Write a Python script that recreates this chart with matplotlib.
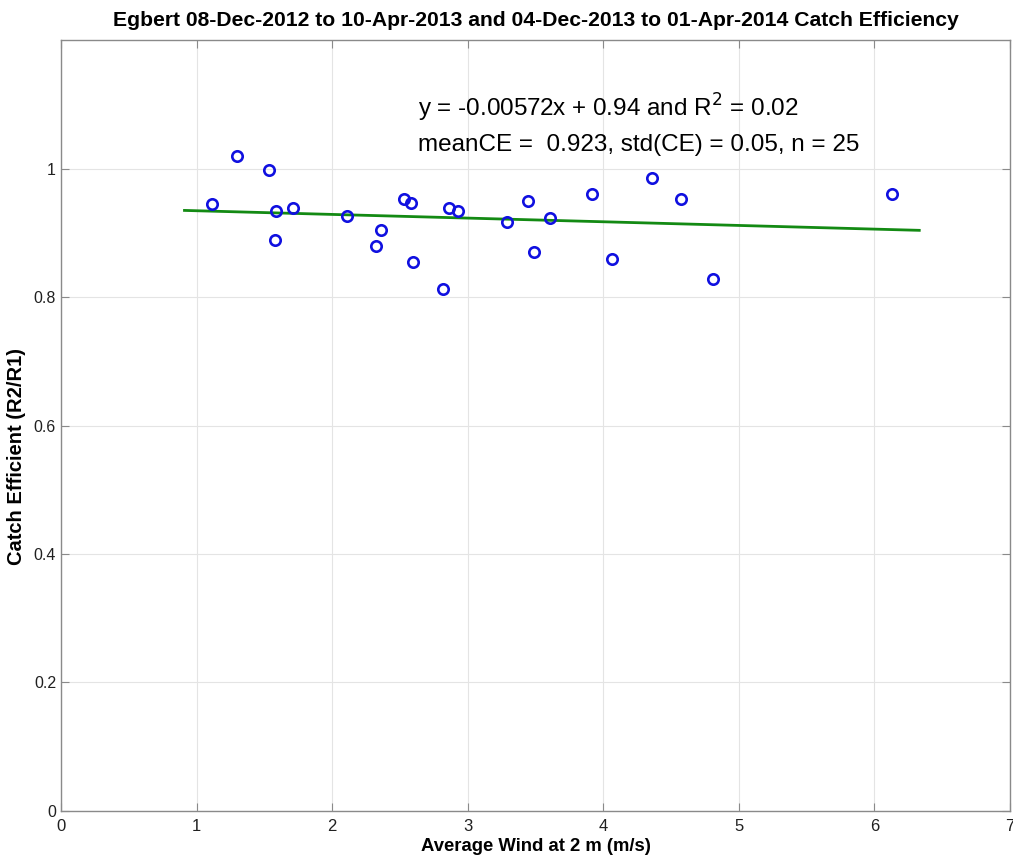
import numpy as np
import matplotlib
matplotlib.use('Agg')
import matplotlib.pyplot as plt

plt.rcParams['font.family'] = ['Liberation Sans', 'DejaVu Sans']

# wind speed (m/s) and catch efficiency
wind = [1.111, 1.296, 1.536, 1.583, 1.576, 1.709, 2.111, 2.325, 2.362, 2.529,
        2.579, 2.598, 2.819, 2.864, 2.928, 3.287, 3.442, 3.486, 3.604, 3.918,
        4.063, 4.361, 4.570, 4.806, 6.131]
ce = [0.944, 1.019, 0.997, 0.934, 0.888, 0.939, 0.926, 0.879, 0.904, 0.953,
      0.946, 0.854, 0.813, 0.939, 0.934, 0.916, 0.950, 0.870, 0.923, 0.961,
      0.859, 0.986, 0.953, 0.828, 0.961]

slope = -0.00572
intercept = 0.94

title = 'Egbert 08-Dec-2012 to 10-Apr-2013 and 04-Dec-2013 to 01-Apr-2014 Catch Efficiency'
line1 = 'y = -0.00572x + 0.94 and R$^2$ = 0.02'
line2 = 'meanCE =  0.923, std(CE) = 0.05, n = 25'

fig = plt.figure(figsize=(10.13, 8.59), dpi=100)
ax = fig.add_axes([0.0602, 0.0559, 0.9368, 0.8975])

ax.plot(wind, ce, 'o', mfc='none', mec='#1010e0', ms=7.5, mew=1.9, zorder=3)

fx = np.array([min(wind) - 0.2, max(wind) + 0.2])
ax.plot(fx, slope * fx + intercept, color='#138a13', lw=2, zorder=2)

ax.set_xlim(0, 7)
ax.set_ylim(0, 1.2)
ax.set_xticks(range(0, 8))
ax.set_yticks([0, 0.2, 0.4, 0.6, 0.8, 1])
ax.set_yticklabels(['0', '0.2', '0.4', '0.6', '0.8', '1'])
ax.grid(True, color='#e4e4e4', lw=0.8)
ax.set_axisbelow(True)
for s in ax.spines.values():
    s.set_color('#8a8a8a')
    s.set_linewidth(1.0)
ax.tick_params(direction='in', length=6, color='#8a8a8a', labelsize=12,
               top=True, right=True, labelcolor='#202020')
ax.tick_params(axis='x', pad=6)
ax.tick_params(axis='y', labelsize=11.5)

ax.text(2.633, 1.0815, line1, fontsize=17.5, va='baseline')
ax.text(2.633, 1.0266, line2, fontsize=17.5, va='baseline')

ax.set_title(title, fontsize=15.2, fontweight='bold', pad=10)
ax.set_xlabel('Average Wind at 2 m (m/s)', fontsize=13.3, fontweight='bold', labelpad=3)
ax.set_ylabel('Catch Efficient (R2/R1)', fontsize=14.5, fontweight='bold')
ax.yaxis.set_label_coords(-0.037, 0.46)

fig.savefig('out.png', dpi=100)
